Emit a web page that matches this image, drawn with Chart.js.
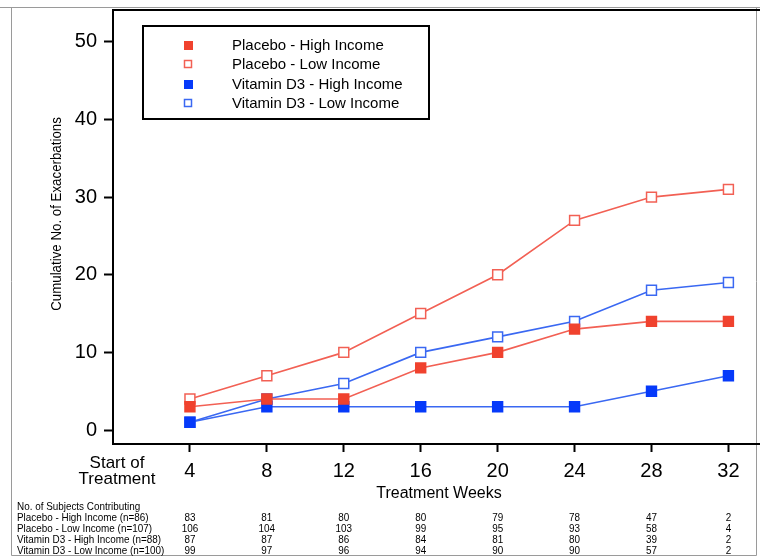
<!DOCTYPE html>
<html>
<head>
<meta charset="utf-8">
<script src="https://cdn.jsdelivr.net/npm/chart.js@4/dist/chart.umd.min.js"></script>
<style>
  html, body { margin: 0; padding: 0; background: #fff; }
  #wrap { width: 760px; height: 560px; position: relative; }
</style>
</head>
<body>
<div id="wrap"><canvas id="chart" width="760" height="560"></canvas></div>
<script>
// treatment weeks on the x axis
const weeks = [4, 8, 12, 16, 20, 24, 28, 32];

// cumulative number of exacerbations
const placeboHigh = [3, 4, 4, 8, 10, 13, 14, 14];
const placeboLow = [4, 7, 10, 15, 20, 27, 30, 31];
const vitdHigh = [1, 3, 3, 3, 3, 3, 5, 7];
const vitdLow = [1, 4, 6, 10, 12, 14, 18, 19];

const yTicks = [0, 10, 20, 30, 40, 50];

// number of subjects contributing table
const tableRowLabels = [
    "Placebo - High Income (n=86)",
    "Placebo - Low Income (n=107)",
    "Vitamin D3 - High Income (n=88)",
    "Vitamin D3 - Low Income (n=100)"
];
const subjectsPlaceboHigh = [83, 81, 80, 80, 79, 78, 47, 2];
const subjectsPlaceboLow = [106, 104, 103, 99, 95, 93, 58, 4];
const subjectsVitdHigh = [87, 87, 86, 84, 81, 80, 39, 2];
const subjectsVitdLow = [99, 97, 96, 94, 90, 90, 57, 2];

const RED = "rgb(240, 66, 46)";
const RED_LINE = "rgb(242, 96, 84)";
const BLUE = "rgb(6, 58, 250)";
const BLUE_LINE = "rgb(58, 104, 242)";
const FONT = "'Liberation Sans', Arial, Helvetica, sans-serif";

function toPoints(values) {
    return weeks.map((w, i) => ({ x: w, y: values[i] }));
}

// narrow text like the small table font of the original
function narrowText(ctx, text, x, y, squeeze) {
    ctx.save();
    ctx.translate(x, y);
    ctx.scale(squeeze, 1);
    ctx.fillText(text, 0, 0);
    ctx.restore();
}

// Draws the box, axis labels, "Start of Treatment", legend and the subjects table
const extrasPlugin = {
    id: "extras",
    afterDraw(chart) {
        const ctx = chart.ctx;
        const area = chart.chartArea;
        const xs = chart.scales.x;
        ctx.save();

        // outer grey frame of the figure
        ctx.strokeStyle = "#9a9a9a";
        ctx.lineWidth = 1;
        ctx.beginPath();
        ctx.moveTo(0, 7.5);
        ctx.lineTo(760, 7.5);
        ctx.moveTo(11.5, 7.5);
        ctx.lineTo(11.5, 555.5);
        ctx.lineTo(756.5, 555.5);
        ctx.lineTo(756.5, 7.5);
        ctx.stroke();

        // top line of the plot box, bottom line carried on to the edge
        ctx.strokeStyle = "#000";
        ctx.lineWidth = 2;
        ctx.beginPath();
        ctx.moveTo(area.left - 1, area.top);
        ctx.lineTo(760, area.top);
        ctx.moveTo(area.right - 1, area.bottom);
        ctx.lineTo(760, area.bottom);
        ctx.stroke();

        // y axis title
        ctx.fillStyle = "#000";
        ctx.font = "14px " + FONT;
        ctx.textAlign = "center";
        ctx.textBaseline = "middle";
        ctx.save();
        ctx.translate(57, 214);
        ctx.rotate(-Math.PI / 2);
        ctx.scale(0.95, 1);
        ctx.fillText("Cumulative No. of Exacerbations", 0, 0);
        ctx.restore();

        // x axis title
        ctx.font = "16px " + FONT;
        ctx.fillText("Treatment Weeks", 439, 494);

        // start of treatment label
        ctx.font = "17px " + FONT;
        ctx.fillText("Start of", 117, 463);
        ctx.fillText("Treatment", 117, 479);

        // legend box
        ctx.lineWidth = 2;
        ctx.strokeRect(143, 26, 286, 93);
        const legendY = [45, 64, 84, 103];
        ctx.font = "15px " + FONT;
        ctx.textAlign = "left";
        chart.data.datasets.forEach((ds, i) => {
            const y = legendY[i];
            if (ds.hollow) {
                ctx.fillStyle = "#fff";
                ctx.fillRect(184, y - 4, 8, 8);
                ctx.strokeStyle = ds.borderColor;
                ctx.lineWidth = 1.5;
                ctx.strokeRect(184.5, y - 3.5, 7, 7);
            } else {
                ctx.fillStyle = ds.pointBackgroundColor;
                ctx.fillRect(184, y - 4, 9, 9);
            }
            ctx.fillStyle = "#000";
            ctx.fillText(ds.label, 232, y + 1);
        });

        // subjects contributing table
        ctx.font = "11.5px " + FONT;
        ctx.textAlign = "left";
        narrowText(ctx, "No. of Subjects Contributing", 17, 507, 0.86);
        const rows = [subjectsPlaceboHigh, subjectsPlaceboLow, subjectsVitdHigh, subjectsVitdLow];
        rows.forEach((row, r) => {
            const y = 518 + r * 11;
            ctx.textAlign = "left";
            narrowText(ctx, tableRowLabels[r], 17, y, 0.86);
            ctx.textAlign = "center";
            row.forEach((n, i) => {
                narrowText(ctx, String(n), xs.getPixelForValue(weeks[i]), y, 0.86);
            });
        });

        ctx.restore();
    }
};

const ctx = document.getElementById("chart").getContext("2d");
new Chart(ctx, {
    type: "line",
    data: {
        datasets: [
            {
                label: "Placebo - High Income",
                data: toPoints(placeboHigh),
                borderColor: RED_LINE,
                pointBackgroundColor: RED,
                pointBorderColor: RED,
                hollow: false
            },
            {
                label: "Placebo - Low Income",
                data: toPoints(placeboLow),
                borderColor: RED_LINE,
                pointBackgroundColor: "#fff",
                pointBorderColor: RED_LINE,
                hollow: true
            },
            {
                label: "Vitamin D3 - High Income",
                data: toPoints(vitdHigh),
                borderColor: BLUE_LINE,
                pointBackgroundColor: BLUE,
                pointBorderColor: BLUE,
                hollow: false
            },
            {
                label: "Vitamin D3 - Low Income",
                data: toPoints(vitdLow),
                borderColor: BLUE_LINE,
                pointBackgroundColor: "#fff",
                pointBorderColor: BLUE_LINE,
                hollow: true
            }
        ]
    },
    options: {
        responsive: false,
        animation: false,
        layout: { padding: { top: 10, right: 0, left: 0, bottom: 0 } },
        elements: {
            line: { borderWidth: 1.6, tension: 0, fill: false },
            point: { pointStyle: "rect", radius: 7, borderWidth: 1.5, hoverRadius: 7 }
        },
        scales: {
            x: {
                type: "linear",
                min: 0,
                max: 33.2,
                afterFit: (scale) => {
                    scale.height = 116;
                    scale.paddingLeft = 0;
                    scale.paddingRight = 0;
                },
                afterBuildTicks: (scale) => {
                    scale.ticks = weeks.map((w) => ({ value: w }));
                },
                grid: {
                    drawOnChartArea: false,
                    drawTicks: true,
                    tickLength: 8,
                    tickWidth: 2,
                    tickColor: "#000"
                },
                border: { display: true, color: "#000", width: 2 },
                ticks: {
                    color: "#000",
                    font: { size: 20, family: FONT },
                    padding: 7,
                    maxRotation: 0,
                    autoSkip: false
                }
            },
            y: {
                type: "linear",
                min: -1.8,
                max: 54.1,
                afterFit: (scale) => {
                    scale.width = 113;
                    scale.paddingTop = 0;
                    scale.paddingBottom = 0;
                },
                afterBuildTicks: (scale) => {
                    scale.ticks = yTicks.map((v) => ({ value: v }));
                },
                grid: {
                    drawOnChartArea: false,
                    drawTicks: true,
                    tickLength: 9,
                    tickWidth: 2,
                    tickColor: "#000"
                },
                border: { display: true, color: "#000", width: 2 },
                ticks: {
                    color: "#000",
                    font: { size: 20, family: FONT },
                    padding: 7
                }
            }
        },
        plugins: {
            legend: { display: false },
            tooltip: { enabled: false }
        }
    },
    plugins: [extrasPlugin]
});
</script>
</body>
</html>
